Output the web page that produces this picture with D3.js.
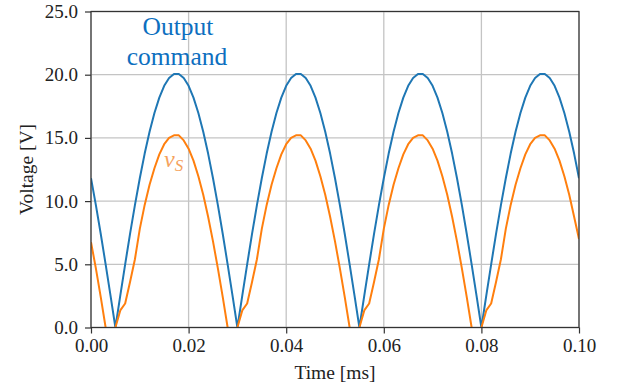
<!DOCTYPE html>
<html>
<head>
<meta charset="utf-8">
<script src="https://cdn.jsdelivr.net/npm/d3@7/dist/d3.min.js"></script>
<style>
  html, body { margin: 0; padding: 0; background: #fff; }
  svg { display: block; }
  text { font-family: "Liberation Serif", "DejaVu Serif", serif; }
</style>
</head>
<body>
<svg id="chart" width="623" height="385"></svg>
<script>
// ---- data ----
const time = [
  0.000,0.001,0.002,0.003,0.004,0.005,0.006,0.007,0.008,0.009,
  0.010,0.011,0.012,0.013,0.014,0.015,0.016,0.017,0.018,0.019,
  0.020,0.021,0.022,0.023,0.024,0.025,0.026,0.027,0.028,0.029,
  0.030,0.031,0.032,0.033,0.034,0.035,0.036,0.037,0.038,0.039,
  0.040,0.041,0.042,0.043,0.044,0.045,0.046,0.047,0.048,0.049,
  0.050,0.051,0.052,0.053,0.054,0.055,0.056,0.057,0.058,0.059,
  0.060,0.061,0.062,0.063,0.064,0.065,0.066,0.067,0.068,0.069,
  0.070,0.071,0.072,0.073,0.074,0.075,0.076,0.077,0.078,0.079,
  0.080,0.081,0.082,0.083,0.084,0.085,0.086,0.087,0.088,0.089,
  0.090,0.091,0.092,0.093,0.094,0.095,0.096,0.097,0.098,0.099,
  0.100
];
const outputCommand = [
  11.81, 9.68, 7.40, 5.00, 2.52,
  0.00, 2.52, 5.00, 7.40, 9.68, 11.81, 13.76, 15.49, 16.97, 18.19, 19.12, 19.74, 20.06, 20.06, 19.74, 19.12, 18.19, 16.97, 15.49, 13.76, 11.81, 9.68, 7.40, 5.00, 2.52,
  0.00, 2.52, 5.00, 7.40, 9.68, 11.81, 13.76, 15.49, 16.97, 18.19, 19.12, 19.74, 20.06, 20.06, 19.74, 19.12, 18.19, 16.97, 15.49, 13.76, 11.81, 9.68, 7.40, 5.00, 2.52,
  0.00, 2.52, 5.00, 7.40, 9.68, 11.81, 13.76, 15.49, 16.97, 18.19, 19.12, 19.74, 20.06, 20.06, 19.74, 19.12, 18.19, 16.97, 15.49, 13.76, 11.81, 9.68, 7.40, 5.00, 2.52,
  0.00, 2.52, 5.00, 7.40, 9.68, 11.81, 13.76, 15.49, 16.97, 18.19, 19.12, 19.74, 20.06, 20.06, 19.74, 19.12, 18.19, 16.97, 15.49, 13.76, 11.81
];
const vS = [
  6.75, 4.68, 2.40, 0.00, -2.48,
  0.00, 1.35, 1.90, 3.60, 5.40, 7.80, 9.70, 11.30, 12.60, 13.70, 14.50, 15.00, 15.20, 15.20, 14.80, 14.15, 13.20, 11.97, 10.50, 8.76, 6.81, 4.68, 2.40, 0.00, -2.48,
  0.00, 1.35, 1.90, 3.60, 5.40, 7.80, 9.70, 11.30, 12.60, 13.70, 14.50, 15.00, 15.20, 15.20, 14.80, 14.15, 13.20, 11.97, 10.50, 8.76, 6.81, 4.68, 2.40, 0.00, -2.48,
  0.00, 1.35, 1.90, 3.60, 5.40, 7.80, 9.70, 11.30, 12.60, 13.70, 14.50, 15.00, 15.20, 15.20, 14.80, 14.15, 13.20, 11.97, 10.50, 8.76, 6.81, 4.68, 2.40, 0.00, -2.48,
  0.00, 1.35, 1.90, 3.60, 5.40, 7.80, 9.70, 11.30, 12.60, 13.70, 14.50, 15.00, 15.20, 15.20, 14.80, 14.15, 13.20, 11.97, 10.50, 8.76, 7.00
];
const xTicks = [0.00, 0.02, 0.04, 0.06, 0.08, 0.10];
const yTicks = [0.0, 5.0, 10.0, 15.0, 20.0, 25.0];
const xLabel = "Time [ms]";
const yLabel = "Voltage [V]";

// ---- layout ----
const svg = d3.select("#chart");
const L = 91, R = 579, T = 11.5, B = 327.5;
const x = d3.scaleLinear().domain([0, 0.1]).range([L, R]);
const y = d3.scaleLinear().domain([0, 25]).range([B, T]);

svg.append("defs").append("clipPath").attr("id", "plotclip")
  .append("rect").attr("x", L).attr("y", T).attr("width", R - L).attr("height", B - T);

// grid
const grid = svg.append("g");
grid.selectAll(".gx").data(xTicks).join("line")
  .attr("x1", d => x(d)).attr("x2", d => x(d)).attr("y1", T).attr("y2", B)
  .attr("stroke", "#c4c4c4").attr("stroke-width", 1.3);
grid.selectAll(".gy").data(yTicks).join("line")
  .attr("x1", L).attr("x2", R).attr("y1", d => y(d)).attr("y2", d => y(d))
  .attr("stroke", "#c4c4c4").attr("stroke-width", 1.3);

// lines
const pts = (vals) => time.map((t, i) => [t, vals[i]]);
const line = d3.line().x(d => x(d[0])).y(d => y(d[1]));
const plot = svg.append("g").attr("clip-path", "url(#plotclip)");
plot.append("path").attr("d", line(pts(outputCommand)))
  .attr("fill", "none").attr("stroke", "#1f77b4").attr("stroke-width", 2)
  .attr("stroke-linejoin", "round");
plot.append("path").attr("d", line(pts(vS)))
  .attr("fill", "none").attr("stroke", "#ff7f0e").attr("stroke-width", 2)
  .attr("stroke-linejoin", "round");

// frame
svg.append("rect").attr("x", L).attr("y", T).attr("width", R - L).attr("height", B - T)
  .attr("fill", "none").attr("stroke", "#333").attr("stroke-width", 1.2);

// axes
const xAxis = d3.axisBottom(x).tickValues(xTicks).tickFormat(d3.format(".2f"))
  .tickSize(6).tickPadding(5);
const yAxis = d3.axisLeft(y).tickValues(yTicks).tickFormat(d3.format(".1f"))
  .tickSize(6).tickPadding(7);
const gx = svg.append("g").attr("transform", `translate(0,${B})`).call(xAxis);
const gy = svg.append("g").attr("transform", `translate(${L},0)`).call(yAxis);
[gx, gy].forEach(g => {
  g.select(".domain").remove();
  g.selectAll(".tick line").attr("stroke", "#333").attr("stroke-width", 1.2);
  g.selectAll(".tick text").attr("fill", "#222")
    .style("font-family", '"Liberation Serif", serif').style("font-size", "19px");
});

// axis labels
svg.append("text").attr("x", (L + R) / 2).attr("y", 379).attr("text-anchor", "middle")
  .attr("fill", "#222").style("font-size", "19.5px").text(xLabel);
svg.append("text").attr("transform", `translate(33,${(T + B) / 2}) rotate(-90)`)
  .attr("text-anchor", "middle").attr("fill", "#222").style("font-size", "19.5px").text(yLabel);

// annotations
const ann = svg.append("g").attr("fill", "#0d6fbf").style("font-size", "25.5px").attr("text-anchor", "middle");
ann.append("text").attr("x", 178).attr("y", 35).text("Output");
ann.append("text").attr("x", 177).attr("y", 65).text("command");

const vs = svg.append("text").attr("x", 164).attr("y", 167).attr("fill", "#f5a25d")
  .style("font-size", "24px").style("font-style", "italic");
vs.append("tspan").text("v");
vs.append("tspan").attr("dy", 4).style("font-size", "17px").text("S");
</script>
</body>
</html>
